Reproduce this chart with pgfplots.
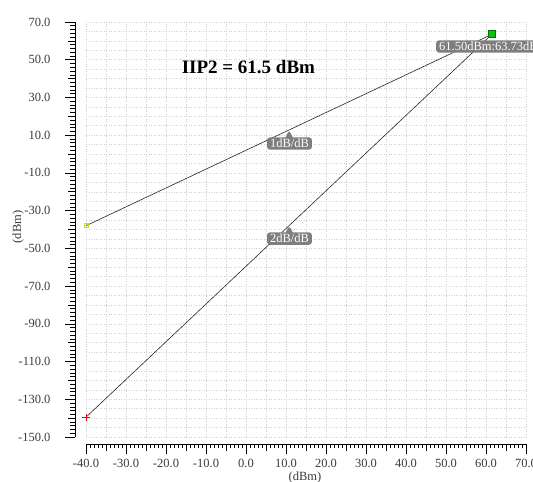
\documentclass[border=0pt]{standalone}
\usepackage{pgfplots}
\pgfplotsset{compat=1.18}
\usepackage{fontspec}
\setmainfont{Liberation Serif}
\usetikzlibrary{shapes.callouts}
\definecolor{tickgray}{HTML}{3A3A3A}
\definecolor{boxgray}{HTML}{7E7E7E}
\definecolor{mkgreen}{HTML}{10C010}
\begin{document}
\begin{tikzpicture}
% main plotting area
\begin{axis}[at={(0,0)}, anchor=south west, scale only axis,
  width=440bp, height=415bp,
  xmin=-40, xmax=70, ymin=-150, ymax=70,
  axis line style={draw=none},
  xtick={-40,-35,...,70}, ytick={-150,-145,...,70},
  xticklabels={}, yticklabels={},
  major tick length=0pt,
  grid=major,
  grid style={gray!38, line width=0.5bp, dash pattern=on 1bp off 1.5bp},
  clip=false]
\addplot[black!85, line width=0.6bp] coordinates {(-40,-38) (61.5,63.5)};
\addplot[black!85, line width=0.6bp] coordinates {(-40,-139.5) (61.5,63.5)};
\addplot[only marks, mark=+, mark size=3.5bp, red, line width=0.6bp] coordinates {(-40,-139.5)};
\addplot[only marks, mark=square, mark size=2bp, yellow!75!green, line width=0.5bp] coordinates {(-40,-38)};
\addplot[only marks, mark=square*, mark size=3.5bp, mark options={fill=mkgreen, draw=green!45!black}] coordinates {(61.5,63.73)};
\node[font=\bfseries\fontsize{19bp}{22bp}\selectfont] at (axis cs:0.6,45.9) {IIP2 = 61.5 dBm};
\node[rectangle callout, callout absolute pointer={(axis cs:10.75,12.75)},
  fill=boxgray, text=white, rounded corners=3bp, inner xsep=3bp, inner ysep=1.8bp,
  font=\fontsize{12.5bp}{14bp}\selectfont] at (axis cs:10.875,5.6) {1dB/dB};
\node[rectangle callout, callout absolute pointer={(axis cs:10.75,-38)},
  fill=boxgray, text=white, rounded corners=3bp, inner xsep=3bp, inner ysep=1.8bp,
  font=\fontsize{12.5bp}{14bp}\selectfont] at (axis cs:10.875,-44.8) {2dB/dB};
\node[fill=boxgray, text=white, rounded corners=3bp, inner xsep=3bp, inner ysep=1.8bp,
  anchor=west, font=\fontsize{12.5bp}{14bp}\selectfont] at (axis cs:47.5,57) {61.50dBm:63.73dBm};
\end{axis}
% y axis (detached to the left)
\begin{axis}[at={(-11bp,0)}, anchor=south west, scale only axis,
  width=11bp, height=415bp,
  xmin=0, xmax=1, ymin=-150, ymax=70,
  axis y line=left, axis x line=none,
  y axis line style={-, black, line width=0.8bp},
  ytick={-150,-130,...,70},
  minor y tick num=9,
  extra y ticks={-140,-120,...,60},
  extra y tick labels={},
  extra y tick style={major tick length=7bp},
  tick align=outside,
  major tick length=10bp, minor tick length=4.5bp,
  every tick/.style={black, line width=0.6bp},
  yticklabel style={/pgf/number format/.cd, fixed, fixed zerofill, precision=1, assume math mode=true,
    /tikz/.cd, font=\fontsize{12.5bp}{14bp}\selectfont, text=tickgray, xshift=-11bp},
  yticklabel={\pgfmathprintnumber{\tick}}]
\end{axis}
% x axis (detached below)
\begin{axis}[at={(0,-7bp)}, anchor=south west, scale only axis,
  width=440bp, height=5bp,
  xmin=-40, xmax=70, ymin=0, ymax=1,
  axis x line=bottom, axis y line=none,
  x axis line style={-, black, line width=0.8bp},
  xtick={-40,-30,...,70},
  minor x tick num=9,
  extra x ticks={-35,-25,...,65},
  extra x tick labels={},
  extra x tick style={major tick length=7bp},
  tick align=outside,
  major tick length=10bp, minor tick length=4.5bp,
  every tick/.style={black, line width=0.6bp},
  xticklabel style={/pgf/number format/.cd, fixed, fixed zerofill, precision=1, assume math mode=true,
    /tikz/.cd, font=\fontsize{12.5bp}{14bp}\selectfont, text=tickgray, yshift=-2bp},
  xticklabel={\pgfmathprintnumber{\tick}}]
\end{axis}
\node[rotate=90, font=\fontsize{12.5bp}{14bp}\selectfont, text=tickgray] at (-68bp,210bp) {(dBm)};
\node[font=\fontsize{12.5bp}{14bp}\selectfont, text=tickgray] at (219bp,-40bp) {(dBm)};
\pgfresetboundingbox
\path[use as bounding box] (-86bp,-45bp) rectangle (447bp,437bp);
\end{tikzpicture}
\end{document}
